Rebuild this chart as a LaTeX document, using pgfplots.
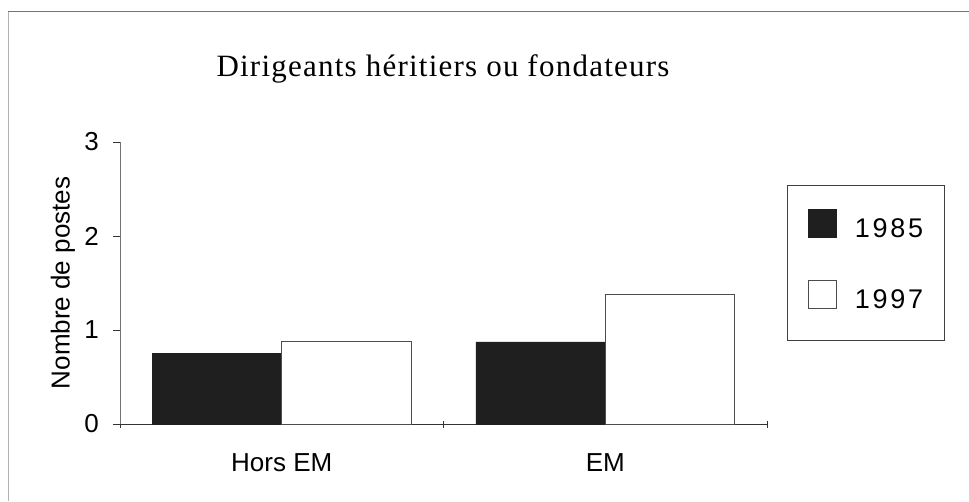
\documentclass[border=0pt]{standalone}
\usepackage{fontspec}
\setmainfont{Liberation Sans}
\newfontfamily\titlefont[LetterSpace=4]{Liberation Serif}
\usepackage{pgfplots}
\pgfplotsset{compat=1.18}
\pgfplotsset{sqlegend/.style={legend image code/.code={%
  \draw[line width=0.6pt,##1] (0pt,0pt) rectangle (28pt,28pt);
  \path (0pt,-8pt);}}}
\begin{document}
\begin{tikzpicture}[x=1pt,y=1pt]
\useasboundingbox (0,0) rectangle (969,501);
\fill[white] (0,0) rectangle (969,501);
\draw[black!55, line width=1pt] (8,489) -- (969,489);
\draw[black!30, line width=0.6pt] (8,489) -- (8,0);
\begin{axis}[
  at={(120pt,77pt)}, anchor=south west,
  scale only axis, width=647pt, height=282pt,
  xmin=-0.5, xmax=1.5, ymin=0, ymax=3,
  enlargelimits=false,
  axis lines=left,
  axis line style={-, black!80, line width=0.8pt},
  y axis line style={black!55},
  tick style={black!80, line width=0.8pt},
  ytick={0,1,2,3}, ytick align=outside,
  xtick={-0.5,0.5,1.5}, xticklabels={,,}, xtick align=center,
  major tick length=7pt,
  extra x ticks={0,1}, extra x tick labels={Hors EM,EM},
  extra x tick style={major tick length=0pt},
  /pgf/number format/assume math mode=true,
  ticklabel style={font=\fontsize{26}{30}\selectfont},
  xticklabel style={inner sep=0pt, yshift=-29pt},
  yticklabel style={inner sep=0pt, xshift=-14pt},
  ylabel={Nombre de postes},
  ylabel style={at={(axis description cs:-0.0881,0.5)}, anchor=center, font=\fontsize{26}{30}\selectfont},
  legend style={at={(axis description cs:1.0309,0.8475)}, anchor=north west,
    draw=black!75, line width=0.7pt, inner xsep=21pt, inner ysep=24pt,
    row sep=34pt, column sep=18pt,
    nodes={inner sep=0pt, anchor=base west},
    font=\fontsize{27}{30}\selectfont\addfontfeature{LetterSpace=10}},
]
\addplot[ybar, bar width=0.4, bar shift=0pt, fill=black!88, draw=black!88, sqlegend]
  coordinates {(-0.2,0.75) (0.8,0.875)};
\addplot[ybar, bar width=0.4, bar shift=0pt, fill=white, draw=black!70, line width=0.6pt, sqlegend]
  coordinates {(0.2,0.875) (1.2,1.375)};
\legend{1985,1997}
\end{axis}
\node[font=\titlefont\fontsize{31}{34}\selectfont, anchor=base] at (443,424) {Dirigeants héritiers ou fondateurs};
\end{tikzpicture}
\end{document}
